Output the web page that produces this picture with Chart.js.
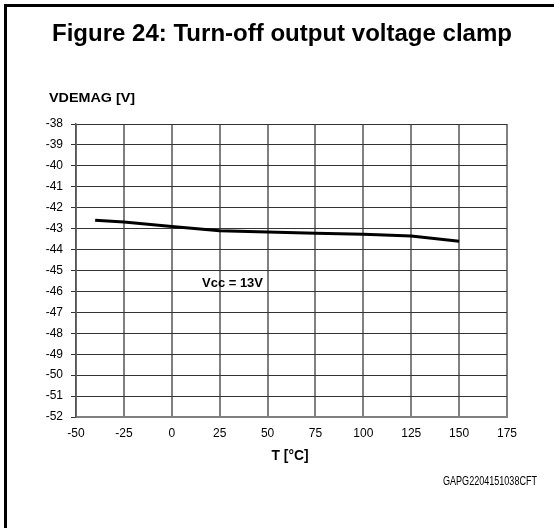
<!DOCTYPE html>
<html>
<head>
<meta charset="utf-8">
<script src="https://cdn.jsdelivr.net/npm/chart.js@4/dist/chart.umd.min.js"></script>
<style>
html,body{margin:0;padding:0;background:#fff;}
#wrap{position:relative;width:554px;height:528px;}
</style>
</head>
<body>
<div id="wrap"><canvas id="c" width="554" height="528"></canvas></div>
<script>
const temperatures = [-40, -25, 0, 25, 50, 75, 100, 125, 150];
const vdemag = [-42.6, -42.68, -42.9, -43.1, -43.16, -43.22, -43.27, -43.35, -43.6];
const xTickRange = {min: -50, max: 175, step: 25};
const yTickRange = {min: -52, max: -38, step: 1};
const titleText = 'Figure 24: Turn-off output voltage clamp';
const yAxisTitle = 'VDEMAG [V]';
const xAxisTitle = 'T [°C]';
const seriesLabel = 'Vcc = 13V';
const codeText = 'GAPG2204151038CFT';

function fitText(ctx, text, font, x, y, width, align) {
  ctx.save();
  ctx.font = font;
  ctx.textBaseline = 'alphabetic';
  ctx.textAlign = 'left';
  const w = ctx.measureText(text).width;
  const s = width / w;
  let left = x;
  if (align === 'center') left = x - width / 2;
  ctx.translate(left, y);
  ctx.scale(s, 1);
  ctx.fillStyle = '#000';
  ctx.fillText(text, 0, 0);
  ctx.restore();
}

const decor = {
  id: 'decor',
  afterDraw(chart) {
    const ctx = chart.ctx;
    ctx.save();
    ctx.strokeStyle = '#000';
    ctx.lineWidth = 3;
    ctx.beginPath();
    ctx.moveTo(5.5, 528);
    ctx.lineTo(5.5, 5.5);
    ctx.lineTo(554, 5.5);
    ctx.stroke();
    ctx.restore();
    fitText(ctx, titleText, 'bold 23px "Liberation Sans", Arial, sans-serif', 52, 41, 460, 'left');
    fitText(ctx, yAxisTitle, 'bold 12px "Liberation Sans", Arial, sans-serif', 49, 102, 86, 'left');
    fitText(ctx, xAxisTitle, 'bold 14px "Liberation Sans", Arial, sans-serif', 290, 460, 37, 'center');
    fitText(ctx, seriesLabel, 'bold 13px "Liberation Sans", Arial, sans-serif', 202, 287, 61, 'left');
    fitText(ctx, codeText, '12px "Liberation Sans", Arial, sans-serif', 443, 485, 94, 'left');
  }
};

new Chart(document.getElementById('c'), {
  type: 'line',
  data: {
    datasets: [{
      label: seriesLabel,
      data: temperatures.map((t, i) => ({x: t, y: vdemag[i]})),
      borderColor: '#000',
      borderWidth: 3,
      pointRadius: 0,
      tension: 0,
      fill: false
    }]
  },
  options: {
    responsive: false,
    animation: false,
    layout: {padding: {left: 0, right: 47, top: 124, bottom: 81}},
    plugins: {legend: {display: false}, tooltip: {enabled: false}, title: {display: false}},
    scales: {
      x: {
        type: 'linear',
        min: xTickRange.min, max: xTickRange.max,
        afterFit(s) { s.height = 30; },
        ticks: {stepSize: xTickRange.step, padding: 9, color: '#000',
          font: {family: '"Liberation Sans", Arial, sans-serif', size: 12}},
        grid: {color: '#808080', lineWidth: 2, drawTicks: false},
        border: {color: '#808080', width: 2}
      },
      y: {
        min: yTickRange.min, max: yTickRange.max,
        afterFit(s) { s.width = 76; },
        ticks: {stepSize: yTickRange.step, padding: 8, color: '#000',
          font: {family: '"Liberation Sans", Arial, sans-serif', size: 12}},
        grid: {color: '#333', lineWidth: 1, tickLength: 5},
        border: {color: '#555', width: 1.5}
      }
    }
  },
  plugins: [decor]
});
</script>
</body>
</html>
